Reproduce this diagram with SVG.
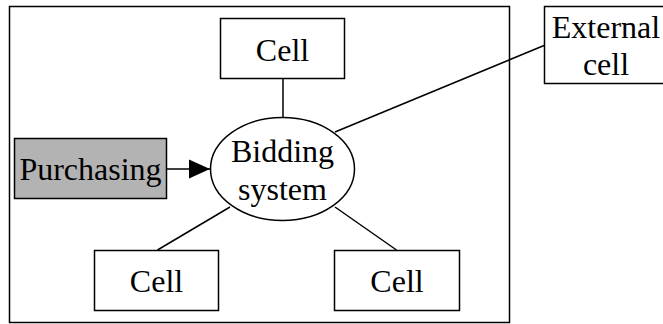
<svg xmlns="http://www.w3.org/2000/svg" width="663" height="324" viewBox="0 0 663 324">
<style>
.box{fill:#fff;stroke:#000;stroke-width:1.5}
.t{font-family:"Liberation Serif","Times New Roman",serif;font-size:32px;fill:#000;text-anchor:middle}
.c{stroke:#000;stroke-width:1.5;fill:none}
</style>
<defs>
<marker id="ah" markerUnits="userSpaceOnUse" markerWidth="22" markerHeight="20" refX="21" refY="10" orient="auto">
<path d="M0,0.5 L21,10 L0,19.5 Z" fill="#000"/>
</marker>
</defs>
<rect width="663" height="324" fill="#fff"/>
<g id="container"><rect class="box" x="9.5" y="6.5" width="500" height="316"/></g>
<g id="connectors">
<line class="c" x1="283" y1="78" x2="283" y2="118"/>
<line class="c" x1="335" y1="132" x2="544" y2="45.5"/>
<line class="c" x1="230" y1="207" x2="157.5" y2="250"/>
<line class="c" x1="335" y1="207" x2="396.5" y2="250"/>
<line class="c" x1="167" y1="169" x2="210" y2="169" marker-end="url(#ah)"/>
</g>
<g id="cell-top"><rect class="box" x="220.5" y="18.5" width="124" height="60"/><text class="t" x="282.5" y="60.5">Cell</text></g>
<g id="external-cell"><rect class="box" x="544.5" y="6.5" width="124" height="77"/><text class="t" x="606" y="37.5">External</text><text class="t" x="606" y="75">cell</text></g>
<g id="purchasing"><rect x="14.5" y="138.5" width="152" height="60" fill="#b3b3b3" stroke="#000" stroke-width="1.5"/><text class="t" x="90.5" y="179.5">Purchasing</text></g>
<g id="bidding-system"><ellipse class="box" cx="282.5" cy="169" rx="72" ry="51.5"/><text class="t" x="282.5" y="162">Bidding</text><text class="t" x="282.5" y="200">system</text></g>
<g id="cell-bl"><rect class="box" x="94.5" y="250.5" width="124" height="60"/><text class="t" x="156.5" y="292">Cell</text></g>
<g id="cell-br"><rect class="box" x="334.5" y="250.5" width="125" height="60"/><text class="t" x="397" y="292">Cell</text></g>
</svg>
